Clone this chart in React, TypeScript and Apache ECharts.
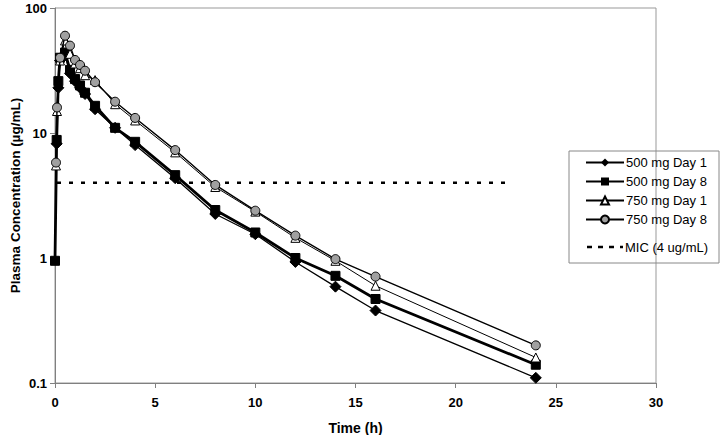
import React, { useEffect, useRef } from "react";
import * as echarts from "echarts";

const seriesNames = ["500 mg Day 1", "500 mg Day 8", "750 mg Day 1", "750 mg Day 8", "MIC (4 ug/mL)"];

const day1_500: [number, number][] = [
  [0.083, 8.2], [0.167, 23], [0.25, 38], [0.5, 42], [0.75, 30], [1, 26], [1.25, 23], [1.5, 20.5],
  [2, 15.5], [3, 11], [4, 8.0], [6, 4.35], [8, 2.25], [10, 1.55], [12, 0.93], [14, 0.59], [16, 0.38], [24, 0.11],
];
const day8_500: [number, number][] = [
  [0, 0.95], [0.083, 8.8], [0.167, 26], [0.25, 40], [0.5, 44], [0.75, 32], [1, 27], [1.25, 24], [1.5, 21],
  [2, 16.5], [3, 11], [4, 8.5], [6, 4.6], [8, 2.42], [10, 1.6], [12, 1.0], [14, 0.72], [16, 0.47], [24, 0.14],
];
const day1_750: [number, number][] = [
  [0.05, 5.5], [0.1, 15], [0.25, 38], [0.5, 55], [0.75, 43], [1, 36], [1.25, 33], [1.5, 29], [2, 26.5],
  [3, 17], [4, 12.6], [6, 7.0], [8, 3.7], [10, 2.35], [12, 1.45], [14, 0.95], [16, 0.6], [24, 0.16],
];
const day8_750: [number, number][] = [
  [0.05, 5.8], [0.1, 16], [0.25, 40], [0.5, 60], [0.75, 50], [1, 38.4], [1.25, 35], [1.5, 31.5], [2, 25.5],
  [3, 17.8], [4, 13.2], [6, 7.3], [8, 3.84], [10, 2.39], [12, 1.51], [14, 0.98], [16, 0.71], [24, 0.2],
];
const mic: [number, number][] = [[0.1, 4], [22.5, 4]];

const xTicks = [0, 5, 10, 15, 20, 25, 30];
const yTicks = [0.1, 1, 10, 100];

export default function App() {
  const ref = useRef<HTMLDivElement>(null);
  useEffect(() => {
    if (!ref.current) return;
    const chart = echarts.init(ref.current, undefined, { renderer: "svg" });
    const font = "Liberation Sans, Arial, sans-serif";
    const narrow = "Liberation Sans Narrow, Arial Narrow, Liberation Sans, Arial, sans-serif";
    const axisGray = "#808080";
    const legendLeft = 585;
    const legendTop = 156;
    const micRowY = 247;
    chart.setOption({
      animation: false,
      backgroundColor: "#fff",
      textStyle: { fontFamily: font },
      grid: {
        left: 55, right: 72, top: 8, bottom: 52,
        containLabel: false, outerBoundsMode: "none",
        show: true, borderColor: "#999", borderWidth: 1,
      },
      graphic: [
        {
          type: "rect",
          shape: { x: 569, y: 151, width: 150, height: 112 },
          style: { fill: "none", stroke: "#888", lineWidth: 1 },
          silent: true,
        },
        {
          type: "line",
          shape: { x1: legendLeft + 2, y1: micRowY, x2: legendLeft + 38, y2: micRowY },
          style: { stroke: "#000", lineWidth: 2.5, lineDash: [5, 6] },
          silent: true,
        },
        {
          type: "text",
          x: legendLeft + 40,
          y: micRowY,
          style: {
            text: seriesNames[4],
            fontFamily: font,
            fontSize: 13,
            fill: "#000",
            verticalAlign: "middle",
            align: "left",
          },
          silent: true,
        },
      ],
      legend: {
        left: legendLeft,
        top: legendTop,
        padding: 0,
        orient: "vertical",
        itemWidth: 38,
        itemHeight: 10,
        itemGap: 6,
        data: seriesNames.slice(0, 4),
        textStyle: { fontFamily: font, fontSize: 13, color: "#000", padding: [0, 0, 0, -3] },
      },
      xAxis: {
        type: "value",
        min: 0,
        max: 30,
        interval: 5,
        name: "Time (h)",
        nameLocation: "middle",
        nameGap: 38,
        nameMoveOverlap: false,
        nameTextStyle: { fontFamily: narrow, fontWeight: "bold", fontSize: 14, color: "#000" },
        axisLine: { show: true, onZero: false, lineStyle: { color: axisGray, width: 1 } },
        axisTick: { show: true, inside: false, length: 5, lineStyle: { color: axisGray } },
        axisLabel: {
          fontFamily: narrow, fontWeight: "bold", fontSize: 13, color: "#000", margin: 13,
          formatter: (v: number) => (xTicks.includes(v) ? String(v) : ""),
        },
        splitLine: { show: false },
      },
      yAxis: {
        type: "log",
        logBase: 10,
        min: 0.1,
        max: 100,
        name: "Plasma Concentration (\u00b5g/mL)",
        nameLocation: "middle",
        nameGap: 33,
        nameMoveOverlap: false,
        nameTextStyle: { fontFamily: font, fontWeight: "bold", fontSize: 13.5, color: "#000" },
        axisLine: { show: true, lineStyle: { color: axisGray, width: 1 } },
        axisTick: { show: true, length: 5, lineStyle: { color: axisGray } },
        axisLabel: {
          fontFamily: narrow, fontWeight: "bold", fontSize: 13, color: "#000", margin: 8,
          formatter: (v: number) => {
            const m = yTicks.find((t) => Math.abs(t - v) / t < 1e-6);
            return m !== undefined ? String(m) : "";
          },
        },
        splitLine: { show: false },
        minorTick: { show: false },
      },
      series: [
        {
          name: seriesNames[0], type: "line", data: day1_500,
          symbol: "diamond", symbolSize: 11,
          itemStyle: { color: "#000", borderColor: "#000" },
          lineStyle: { color: "#000", width: 1.3 }, z: 4,
        },
        {
          name: seriesNames[1], type: "line", data: day8_500,
          symbol: "rect", symbolSize: 9,
          itemStyle: { color: "#000", borderColor: "#000" },
          lineStyle: { color: "#000", width: 2.8 }, z: 3,
        },
        {
          name: seriesNames[2], type: "line", data: day1_750,
          symbol: "triangle", symbolSize: 9,
          itemStyle: { color: "#fff", borderColor: "#000", borderWidth: 1 },
          lineStyle: { color: "#000", width: 1 }, z: 5,
        },
        {
          name: seriesNames[3], type: "line", data: day8_750,
          symbol: "circle", symbolSize: 9,
          itemStyle: { color: "#a0a0a0", borderColor: "#000", borderWidth: 1 },
          lineStyle: { color: "#000", width: 1.4 }, z: 6,
        },
        {
          name: seriesNames[4], type: "line", data: mic,
          symbol: "none",
          itemStyle: { color: "#000" },
          lineStyle: { color: "#000", width: 2.5, type: [4, 8] }, z: 2,
        },
      ],
    });
    return () => chart.dispose();
  }, []);
  return <div ref={ref} style={{ width: 728, height: 435, position: "absolute", left: 0, top: 0 }} />;
}
